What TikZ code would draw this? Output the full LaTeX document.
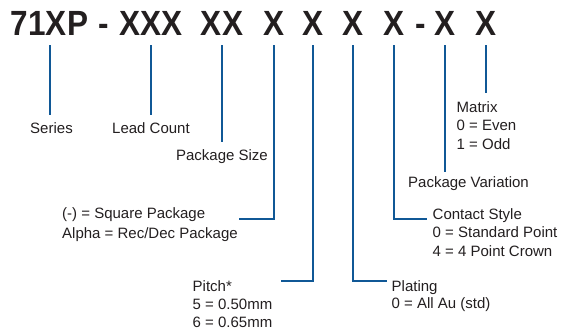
\documentclass[tikz,border=0pt]{standalone}
\usepackage{fontspec}
\setmainfont{Liberation Sans}
\newfontfamily\titlefont[FakeStretch=0.9]{Liberation Sans}
\usetikzlibrary{calc}
\definecolor{lineblue}{RGB}{16,88,150}
\definecolor{ink}{RGB}{35,31,32}
\tikzset{
  code/.style={font=\titlefont\bfseries\fontsize{35}{35}\selectfont, inner sep=0pt,
    anchor=base, text=ink, text depth=0pt, outer ysep=10pt},
  lbl/.style={font=\fontsize{15}{#1}\selectfont, inner sep=0pt, text=ink, align=left},
  lbl/.default=19,
  conn/.style={draw=lineblue, line width=2pt},
}
\begin{document}
\begin{tikzpicture}[x=1pt,y=-1pt]
\useasboundingbox[fill=white] (0,0) rectangle (561,330);
% code string
\node[code] (c1) at (49.5,35) {71XP};
\node[code] (d1) at (104,35) {-};
\node[code] (c2) at (151,35) {XXX};
\node[code] (c3) at (222,35) {XX};
\node[code] (c4) at (274,35) {X};
\node[code] (c5) at (313,35) {X};
\node[code] (c6) at (353,35) {X};
\node[code] (c7) at (393.5,35) {X};
\node[code] (d2) at (421,35) {-};
\node[code] (c8) at (445,35) {X};
\node[code] (c9) at (485.5,35) {X};
% labels (base anchor = baseline of the last line)
\node[lbl, anchor=base] (series) at (51.5,133) {Series};
\node[lbl, anchor=base] (lead) at (151,133) {Lead Count};
\node[lbl, anchor=base] (psize) at (222,160) {Package Size};
\node[lbl=19.5, anchor=base west] (sq) at (62,238) {(-) = Square Package\\Alpha = Rec/Dec Package};
\node[lbl=18.3, anchor=base west] (pitch) at (192.5,327.6) {Pitch*\\5 = 0.50mm\\6 = 0.65mm};
\node[lbl=17.3, anchor=base west] (plat) at (391.5,308.6) {Plating\\0 = All Au (std)};
\node[lbl=18.8, anchor=base west] (cs) at (432.5,256.6) {Contact Style\\0 = Standard Point\\4 = 4 Point Crown};
\node[lbl, anchor=base west] (pv) at (408,187.4) {Package Variation};
\node[lbl=18.5, anchor=base west] (mx) at (456.5,149) {Matrix\\0 = Even\\1 = Odd};
% connectors
\draw[conn] (c1.south) -- ($(c1.south |- series.north)+(0,-7)$);
\draw[conn] (c2.south) -- ($(c2.south |- lead.north)+(0,-7)$);
\draw[conn] (c3.south) -- ($(c3.south |- psize.north)+(0,-7)$);
\draw[conn] (c4.south) |- ($(sq.base east)+(1,-18.7)$);
\draw[conn] (c5.south) |- ($(pitch.base east)+(8,-46.6)$);
\draw[conn] (c6.south) |- ($(plat.base west)+(-4.5,-27.6)$);
\draw[conn] (c7.south) |- ($(cs.base west)+(-6,-37.6)$);
\draw[conn] (c8.south) -- ($(c8.south |- pv.north)+(0,-4)$);
\draw[conn] (c9.south) -- ($(c9.south |- mx.north)+(0,-7.5)$);
\end{tikzpicture}
\end{document}
